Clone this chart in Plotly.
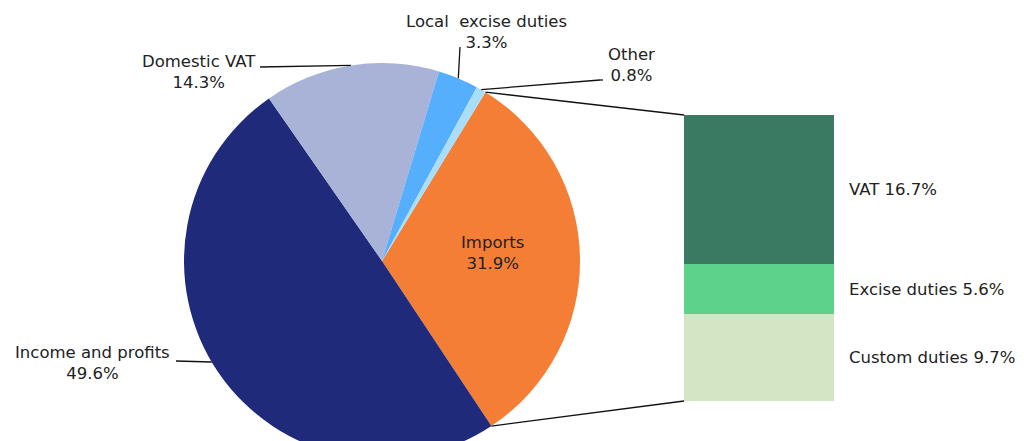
import math
import plotly.graph_objects as go

# ---------------- data ----------------
pie_labels = ["Imports", "Income and profits", "Domestic VAT", "Local\u00a0 excise duties", "Other"]
pie_values = [31.9, 49.6, 14.3, 3.3, 0.8]
pie_colors = ["#F57E36", "#1F2A7B", "#A9B3D8", "#56AFFC", "#A8DEFB"]

bar_labels = ["Custom duties", "Excise duties", "VAT"]
bar_values = [9.7, 5.6, 16.7]
bar_colors = ["#D4E5C5", "#5CD28A", "#3A7A62"]

# ---------------- layout geometry (screen pixels) ----------------
OFF = 8                      # page body margin
W, H = 1024 - OFF, 462 - OFF
CX, CY, R = 382, 261, 198
ROT = 31.5
BAR_X0, BAR_X1, BAR_Y0, BAR_Y1 = 684, 834, 115, 401   # left, right, top, bottom

FONT = dict(family="DejaVu Sans", size=16.5, color="#222222")


def px(x):
    return (x - OFF) / W


def py(y):
    return 1 - (y - OFF) / H


total = sum(pie_values)


def edge_point(angle_deg, r=R):
    a = math.radians(angle_deg)
    return CX + r * math.sin(a), CY - r * math.cos(a)


starts = []
acc = 0.0
for v in pie_values:
    starts.append(ROT + 360 * acc / total)
    acc += v
mids = [s + 180 * v / total for s, v in zip(starts, pie_values)]

fig = go.Figure()

fig.add_trace(go.Pie(
    labels=pie_labels,
    values=pie_values,
    marker=dict(colors=pie_colors, line=dict(width=0)),
    sort=False,
    direction="clockwise",
    rotation=ROT,
    textinfo="none",
    hoverinfo="label+percent",
    domain=dict(x=[px(CX - R), px(CX + R)], y=[py(CY + R), py(CY - R)]),
    showlegend=False,
))

for lab, val, col in zip(bar_labels, bar_values, bar_colors):
    fig.add_trace(go.Bar(
        x=["Imports"], y=[val], name=lab,
        marker=dict(color=col, line=dict(width=0)),
        xaxis="x2", yaxis="y2", showlegend=False, width=1,
    ))

bar_total = sum(bar_values)

annotations = []
shapes = []
line = dict(color="#111111", width=1.3)

# pie labels: (index, text, text centre px, connector points px, angle offset of pie end)
pie_label_spec = [
    (0, "Imports<br>31.9%", (492, 253), None, 0),
    (1, "Income and profits<br>49.6%", (92, 363), [(176, 361)], 3.5),
    (2, "Domestic VAT<br>14.3%", (199, 72), [(260, 67)], 0),
    (3, "Local\u00a0 excise duties<br>3.3%", (486, 32), [(460, 47)], 0),
    (4, "Other<br>0.8%", (631, 65), [(603, 80), (600, 80)], 0),
]
for i, txt, (tx, ty), conn, dang in pie_label_spec:
    annotations.append(dict(
        x=px(tx), y=py(ty), xref="paper", yref="paper", text=txt,
        showarrow=False, xanchor="center", yanchor="middle", font=FONT,
    ))
    if conn:
        pts = conn + [edge_point(mids[i] + dang)]
        for (x0, y0), (x1, y1) in zip(pts[:-1], pts[1:]):
            shapes.append(dict(type="line", xref="paper", yref="paper",
                               x0=px(x0), y0=py(y0), x1=px(x1), y1=py(y1), line=line))

# bar labels
cum = 0.0
for lab, val in zip(bar_labels, bar_values):
    annotations.append(dict(
        x=px(847), y=cum + val / 2, xref="paper", yref="y2",
        text=f"{lab} {val}%", showarrow=False, xanchor="left", yanchor="middle",
        font=FONT,
    ))
    cum += val

# connectors between pie and bar
p_top = edge_point(starts[0])
p_bot = edge_point(starts[0] + 360 * pie_values[0] / total)
shapes.append(dict(type="line", xref="paper", yref="paper",
                   x0=px(p_top[0]), y0=py(p_top[1]), x1=px(BAR_X0), y1=py(BAR_Y0), line=line))
shapes.append(dict(type="line", xref="paper", yref="paper",
                   x0=px(p_bot[0]), y0=py(p_bot[1]), x1=px(BAR_X0), y1=py(BAR_Y1), line=line))

fig.update_layout(
    width=W, height=H,
    margin=dict(l=0, r=0, t=0, b=0),
    paper_bgcolor="white", plot_bgcolor="white",
    barmode="stack", bargap=0,
    xaxis2=dict(domain=[px(BAR_X0), px(BAR_X1)], range=[-0.5, 0.5], visible=False,
                anchor="y2", fixedrange=True),
    yaxis2=dict(domain=[py(BAR_Y1), py(BAR_Y0)], range=[0, bar_total], visible=False,
                anchor="x2", fixedrange=True),
    xaxis=dict(visible=False), yaxis=dict(visible=False),
    annotations=annotations,
    shapes=shapes,
    font=FONT,
)

fig.write_html("out.html")
